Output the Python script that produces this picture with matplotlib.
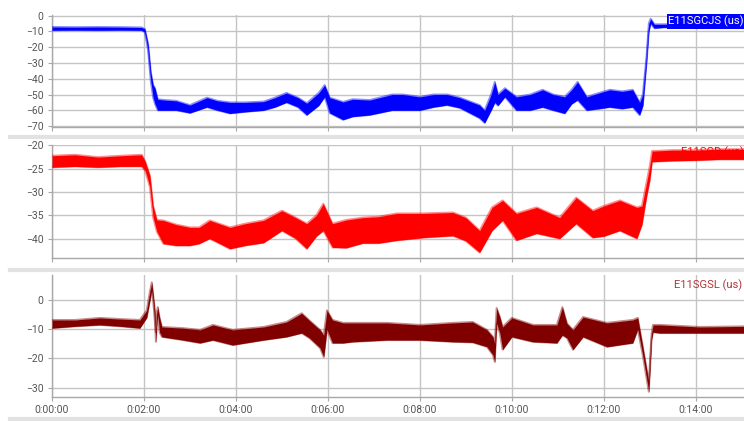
import numpy as np
import matplotlib
matplotlib.use("Agg")
import matplotlib.pyplot as plt
from matplotlib.lines import Line2D

# (time in minutes, lower envelope, upper envelope) of each noisy trace
cjs = [(0.0, -9.3, -7.2), (0.5, -9.2, -7.3), (1.0, -9.3, -7.2), (1.5, -9.2, -7.3), (1.95, -9.3, -7.5),
       (2.02, -10.5, -8.5), (2.09, -22, -18), (2.15, -42, -36), (2.2, -52, -44), (2.24, -56, -46),
       (2.3, -60, -53), (2.45, -60, -53.5), (2.7, -60, -54), (3.0, -61.7, -56.7), (3.37, -58, -52),
       (3.6, -60, -54), (3.87, -62, -55), (4.2, -61, -55), (4.6, -60, -54.5), (4.85, -58, -52),
       (5.1, -55, -49), (5.35, -58, -52), (5.54, -63, -55.5), (5.8, -57, -49), (5.93, -51.5, -44),
       (6.04, -61.7, -52), (6.33, -66, -54.7), (6.54, -64, -53), (6.91, -63, -53.5), (7.4, -60, -50),
       (7.63, -60, -50), (8.0, -60, -51.5), (8.3, -58, -50), (8.59, -56.7, -50), (8.87, -58.5, -52),
       (9.3, -65, -56.7), (9.41, -68, -60), (9.55, -60, -50), (9.63, -55, -42), (9.7, -57, -50),
       (9.85, -51.5, -46), (10.1, -60, -51.5), (10.4, -60, -50), (10.67, -58, -47), (10.9, -60, -50),
       (11.15, -62, -51.5), (11.3, -56, -47), (11.43, -53.5, -42), (11.63, -60, -51.5), (11.9, -59, -49),
       (12.13, -58, -47), (12.4, -59, -48), (12.63, -58, -47), (12.78, -63, -55), (12.85, -57, -50),
       (12.93, -30, -26), (12.98, -10, -5), (13.02, -5, -2), (13.1, -8, -5.5), (13.3, -7.5, -5.5),
       (14.0, -7.2, -5.2), (15.05, -7, -5)]

sgd = [(0.0, -24.7, -22.2), (0.5, -24.5, -22.0), (1.0, -24.7, -22.5), (1.5, -24.5, -22.2), (1.95, -24.5, -22.0),
       (2.03, -25.5, -23.5), (2.13, -29, -26.5), (2.2, -35.5, -33), (2.28, -38.5, -36), (2.42, -41.1, -36.1),
       (2.7, -41.5, -37), (3.0, -41.5, -37.6), (3.2, -41.1, -37.6), (3.43, -40.0, -36.1), (3.87, -42.2, -37.6),
       (4.2, -41.5, -36.8), (4.6, -40.9, -36.1), (5.0, -38.3, -34), (5.3, -40, -35.5), (5.54, -42.2, -36.8),
       (5.75, -39.5, -35), (5.9, -38.3, -32.5), (6.1, -41.9, -36.8), (6.4, -42, -36), (6.76, -41, -35.5),
       (7.1, -41, -35.3), (7.5, -40.4, -34.6), (8.07, -39.8, -34.6), (8.72, -39.4, -34.4), (9.0, -40.5, -35.5),
       (9.3, -43, -38.3), (9.57, -38.3, -33.3), (9.8, -36.1, -31.8), (10.1, -40.4, -34.6), (10.54, -38.9, -33.3),
       (11.04, -40, -35.5), (11.4, -36.8, -31.2), (11.76, -39.8, -34), (12.0, -39.5, -33), (12.35, -38.3, -31.8),
       (12.72, -40, -33.3), (12.83, -37, -33), (12.93, -31, -28), (13.0, -27.5, -24.5), (13.05, -23.5, -21.2),
       (13.5, -23.3, -21), (14.0, -23.2, -21), (14.5, -23.0, -20.8), (15.05, -23.0, -20.8)]

sgsl = [(0.0, -9.6, -6.8), (0.5, -9.0, -6.8), (1.04, -8.5, -6.1), (1.5, -9.0, -6.5), (1.91, -9.6, -6.8),
        (2.06, -6, -3.5), (2.13, 0, 3), (2.17, 3.5, 6.1), (2.2, 0, 2), (2.24, -8, -4),
        (2.26, -14.3, -11), (2.28, -8, -4), (2.3, -5, -2.4), (2.34, -11, -6), (2.39, -12.6, -9.2),
        (2.85, -13.7, -9.6), (3.22, -14.7, -10.2), (3.5, -13.7, -8.5), (3.93, -15.4, -10.2), (4.6, -13.7, -9.2),
        (5.1, -12.6, -7.5), (5.43, -11.3, -4.5), (5.6, -13, -7), (5.83, -16.4, -10.2), (5.91, -19.5, -12),
        (5.98, -10, -3.5), (6.1, -14.7, -6.8), (6.33, -14.7, -7.8), (6.54, -14.3, -7.8), (7.28, -13.7, -7.8),
        (8.0, -13.7, -8.5), (8.72, -14.3, -7.8), (9.15, -14.5, -7.5), (9.46, -16, -10.2), (9.59, -18.8, -12.6),
        (9.63, -21.2, -15), (9.67, -8, -2.7), (9.74, -11.3, -5.8), (9.8, -17, -9.2), (10.0, -12.6, -6.1),
        (10.46, -14.3, -8.5), (10.98, -14.7, -8.5), (11.1, -12, -2.4), (11.2, -13, -8), (11.33, -17, -10.2),
        (11.55, -12.6, -5.8), (12.07, -16, -7.8), (12.63, -14.7, -6.8), (12.74, -10, -6.1), (12.85, -19, -16),
        (12.98, -31.4, -28), (13.04, -13.5, -11.5), (13.07, -11, -8.5), (13.22, -11.3, -8.5), (14.09, -11.3, -9.2),
        (15.05, -11.3, -9.0)]

x_ticks = [0, 2, 4, 6, 8, 10, 12, 14]
x_labels = ["0:00:00", "0:02:00", "0:04:00", "0:06:00", "0:08:00", "0:10:00", "0:12:00", "0:14:00"]

names = ["E11SGCJS (us)", "E11SGD (us)", "E11SGSL (us)"]
colors = ["#0000ff", "#ff0000", "#800000"]
y_ticks = [[0, -10, -20, -30, -40, -50, -60, -70], [-20, -25, -30, -35, -40], [0, -10, -20, -30]]
y_lims = [(-70.6, 0.4), (-44.1, -19.9), (-33.1, 8.6)]
# panel bottom / top in figure fraction
boxes = [(0.6983, 0.9644), (0.388, 0.6556), (0.0577, 0.3468)]

plt.rcParams['font.family'] = ['Roboto', 'DejaVu Sans']
fig = plt.figure(figsize=(7.44, 4.21), dpi=100)
fig.patch.set_facecolor("white")

left = 52 / 744
for i, series in enumerate([cjs, sgd, sgsl]):
    t, lo, hi = np.array(series).T
    col = colors[i]
    b, tp = boxes[i]
    ax = fig.add_axes([left, b, 1 - left, tp - b])
    ax.fill_between(t, lo, hi, color=col, lw=0, zorder=3)
    # soft edges to hint at the noise
    ax.plot(t, lo, color=col, lw=1.4, alpha=0.45, zorder=3)
    ax.plot(t, hi, color=col, lw=1.4, alpha=0.45, zorder=3)
    ax.set_xlim(0, 15.05)
    ax.set_ylim(*y_lims[i])
    ax.set_yticks(y_ticks[i])
    ax.set_xticks(x_ticks)
    ax.grid(True, color="#c4c4c4", lw=1, zorder=0)
    for s in ["top", "right"]:
        ax.spines[s].set_visible(False)
    for s in ["left", "bottom"]:
        ax.spines[s].set_color("#a8a8a8")
        ax.spines[s].set_linewidth(1)
    ax.tick_params(colors="#a8a8a8", labelcolor="#555555", labelsize=7.5, length=3, pad=3)
    if i == 2:
        ax.set_xticklabels(x_labels)
    else:
        ax.set_xticklabels([])
    if i == 0:
        ax.text(1.0, 0.995, names[i], transform=ax.transAxes, ha="right", va="top", fontsize=8,
                color="white", zorder=5,
                bbox=dict(facecolor="#0000ff", edgecolor="none", pad=1.2))
    elif i == 1:
        ax.text(1.0, 0.985, names[i], transform=ax.transAxes, ha="right", va="top", fontsize=8,
                color="#ff0000", zorder=2)
    else:
        ax.text(0.997, 0.96, names[i], transform=ax.transAxes, ha="right", va="top", fontsize=8,
                color="#b03535", zorder=5)

# light grey separator bands between panels
for yy in [1 - 137 / 421, 1 - 270 / 421, 1 - 418.5 / 421]:
    fig.add_artist(Line2D([10 / 744, 1], [yy, yy], color="#e2e2e2", lw=3, transform=fig.transFigure))

fig.savefig("out.png", dpi=100)
